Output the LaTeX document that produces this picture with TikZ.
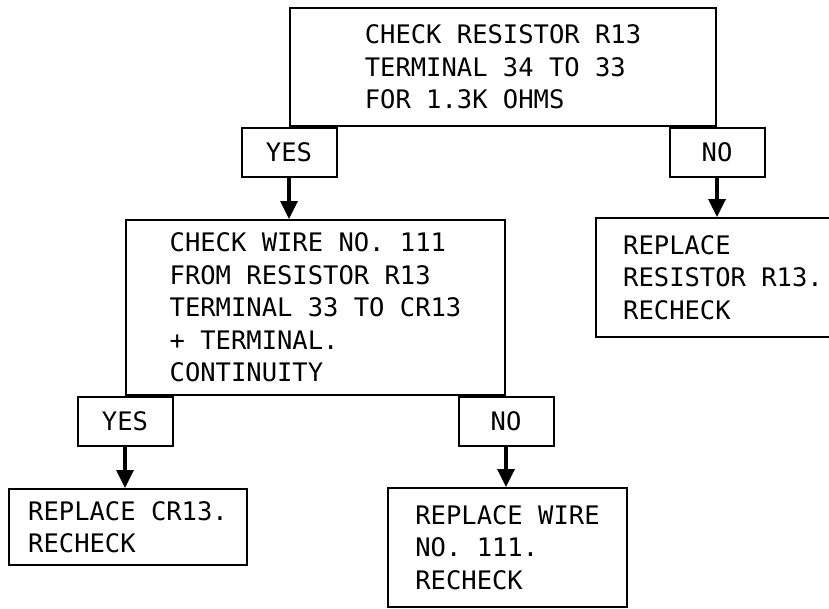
\documentclass[tikz,border=0pt]{standalone}
\usepackage{fontspec}
\newfontfamily\leroyfont{DejaVu Sans Mono}
\usetikzlibrary{positioning,arrows.meta}

\begin{document}
\begin{tikzpicture}[x=1pt,y=-1pt,
  font=\leroyfont\fontsize{25.5}{32.5}\selectfont,
  stepbox/.style={draw, line width=2pt, inner sep=0pt, align=left, anchor=north west},
  tabbox/.style={draw, line width=2pt, inner sep=0pt, minimum width=95pt, minimum height=49pt, anchor=north},
  flow/.style={line width=3.4pt, -{Triangle[width=17pt,length=18pt]}}]
\clip (0,0) rectangle (829,608);
% First check
\node[stepbox, minimum width=426pt, minimum height=118pt] (chkres) at (289,7)
  {CHECK RESISTOR R13\\TERMINAL 34 TO 33\\FOR 1.3K OHMS};
\node[tabbox] (yesA) at (chkres.south west) {YES};
\node[tabbox] (noA) at (chkres.south east) {NO};
% Second check and right branch
\node[stepbox, minimum width=379pt, minimum height=175pt] (chkwire) at (125,219)
  {CHECK WIRE NO. 111\\FROM RESISTOR R13\\TERMINAL 33 TO CR13\\+ TERMINAL.\\CONTINUITY};
\node[stepbox, minimum width=254pt, minimum height=119pt] (replres) at (595,217)
  {REPLACE\\RESISTOR R13.\\RECHECK};
\node[tabbox] (yesB) at (chkwire.south west) {YES};
\node[tabbox] (noB) at (chkwire.south east) {NO};
% Final actions
\node[stepbox, minimum width=238pt, minimum height=76pt] (replcr) at (8,488)
  {REPLACE CR13.\\RECHECK};
\node[stepbox, minimum width=239pt, minimum height=119pt] (replwire) at (387,487)
  {REPLACE WIRE\\NO. 111.\\RECHECK};
% Connectors
\draw[flow] (yesA.south) -- (yesA.south |- chkwire.north);
\draw[flow] (noA.south) -- (noA.south |- replres.north);
\draw[flow] (yesB.south) -- (yesB.south |- replcr.north);
\draw[flow] (noB.south) -- (noB.south |- replwire.north);
\end{tikzpicture}
\end{document}
